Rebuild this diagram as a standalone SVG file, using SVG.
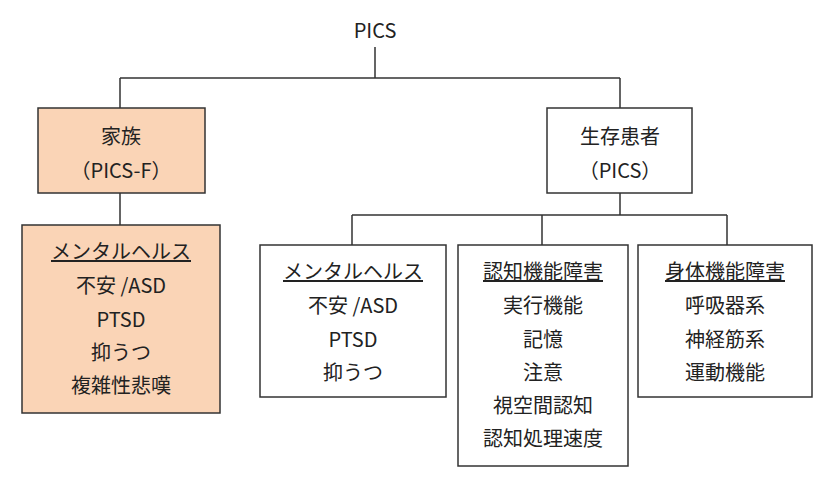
<svg xmlns="http://www.w3.org/2000/svg" width="836" height="483" viewBox="0 0 836 483">
<style>
.b{fill:#fff;stroke:#333;stroke-width:1.5}
.f{fill:#fad4b6;stroke:#333;stroke-width:1.5}
text{font-family:"Noto Sans CJK JP","Noto Sans",sans-serif;font-size:20px;fill:#222;text-anchor:middle}
.u{text-decoration:underline}
#c path{fill:none;stroke:#333;stroke-width:1.5}
</style>
<rect width="836" height="483" fill="#fff"/>
<text x="375" y="38" font-size="22">PICS</text>
<g id="c">
<path d="M375 47V78M120 78H620M120 78V108M620 78V108M120 193V225M620 193V215M352 215H727M352 215V245M542 215V245M727 215V245"/>
</g>
<g id="family"><rect class="f" x="38" y="108" width="167" height="85"/>
<text x="121" y="144">家族</text><text x="121" y="178">（PICS-F）</text></g>
<g id="family-mh"><rect class="f" x="22" y="225" width="198" height="188"/>
<text x="121" y="259" class="u">メンタルヘルス</text><text x="121" y="293">不安 /ASD</text><text x="121" y="327">PTSD</text><text x="121" y="360">抑うつ</text><text x="121" y="393">複雑性悲嘆</text></g>
<g id="survivor"><rect class="b" x="547" y="108" width="145" height="85"/>
<text x="620" y="144">生存患者</text><text x="620" y="178">（PICS）</text></g>
<g id="mh"><rect class="b" x="260" y="245" width="186" height="152"/>
<text x="353" y="279" class="u">メンタルヘルス</text><text x="353" y="313">不安 /ASD</text><text x="353" y="347">PTSD</text><text x="353" y="380">抑うつ</text></g>
<g id="cog"><rect class="b" x="458" y="245" width="170" height="221"/>
<text x="543" y="279" class="u">認知機能障害</text><text x="543" y="313">実行機能</text><text x="543" y="347">記憶</text><text x="543" y="380">注意</text><text x="543" y="413">視空間認知</text><text x="543" y="446">認知処理速度</text></g>
<g id="phys"><rect class="b" x="638" y="245" width="174" height="152"/>
<text x="725" y="279" class="u">身体機能障害</text><text x="725" y="313">呼吸器系</text><text x="725" y="347">神経筋系</text><text x="725" y="380">運動機能</text></g>
</svg>
